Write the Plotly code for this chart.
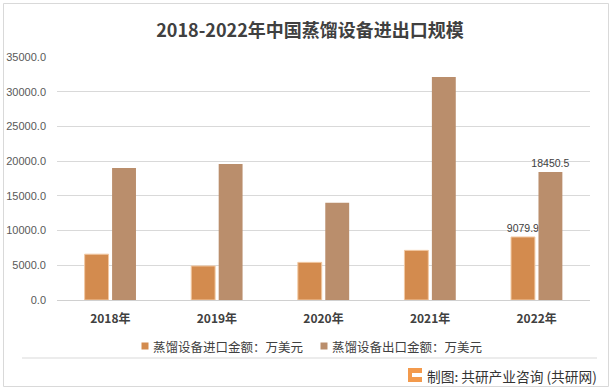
import plotly.graph_objects as go

years = ["2018年", "2019年", "2020年", "2021年", "2022年"]
imports = [6600.0, 4900.0, 5420.0, 7150.0, 9079.9]
exports = [19000.0, 19600.0, 14000.0, 32130.0, 18450.5]
import_labels = ["", "", "", "", "9079.9"]
export_labels = ["", "", "", "", "18450.5"]
y_ticks = [0, 5000, 10000, 15000, 20000, 25000, 30000, 35000]

name_imp = "蒸馏设备进口金额：万美元"
name_exp = "蒸馏设备出口金额：万美元"
color_imp = "#D38B4E"
color_exp = "#BA8E6C"

CJK = "Noto Sans CJK SC, Noto Sans, sans-serif"

L, R, T, B = 57, 23, 57, 90
W, H = 613, 390
pw, ph = W - L - R, H - T - B

def px(x):
    return (x - L) / pw

def py(y):
    return (H - B - y) / ph

fig = go.Figure()
fig.add_trace(go.Bar(
    x=years, y=imports, name=name_imp, showlegend=False,
    marker=dict(color=color_imp, line=dict(color="#F2C9A3", width=1)),
    text=import_labels, textposition="outside", constraintext="none",
    textfont=dict(size=10.5, color="#404040", family="Liberation Sans, Arial"),
    cliponaxis=False,
))
fig.add_trace(go.Bar(
    x=years, y=exports, name=name_exp, showlegend=False,
    marker=dict(color=color_exp, line=dict(width=0)),
    text=export_labels, textposition="outside", constraintext="none",
    textfont=dict(size=10.5, color="#404040", family="Liberation Sans, Arial"),
    cliponaxis=False,
))

shapes = [
    dict(type="rect", xref="paper", yref="paper",
         x0=px(3.5), x1=px(608.5), y0=py(3.5), y1=py(386.5),
         line=dict(color="#D9D9D9", width=1), layer="below"),
    dict(type="line", xref="paper", yref="paper",
         x0=px(22), x1=px(597), y0=py(358), y1=py(358),
         line=dict(color="#D9D9D9", width=1)),
    # legend swatches
    dict(type="rect", xref="paper", yref="paper",
         x0=px(141.5), x1=px(148.5), y0=py(342.5), y1=py(349.5),
         fillcolor=color_imp, line=dict(width=0)),
    dict(type="rect", xref="paper", yref="paper",
         x0=px(320.5), x1=px(327.5), y0=py(342.5), y1=py(349.5),
         fillcolor=color_exp, line=dict(width=0)),
    # logo
    dict(type="rect", xref="paper", yref="paper",
         x0=px(408), x1=px(422), y0=py(368), y1=py(382),
         fillcolor="#F39A4C", line=dict(width=0)),
    dict(type="rect", xref="paper", yref="paper",
         x0=px(412), x1=px(422), y0=py(373), y1=py(377),
         fillcolor="#FFFFFF", line=dict(width=0)),
]

annotations = [
    dict(text=name_imp, xref="paper", yref="paper",
         x=px(151), y=py(346), xanchor="left", yanchor="middle",
         showarrow=False, font=dict(size=12.5, color="#404040", family=CJK)),
    dict(text=name_exp, xref="paper", yref="paper",
         x=px(330), y=py(346), xanchor="left", yanchor="middle",
         showarrow=False, font=dict(size=12.5, color="#404040", family=CJK)),
    dict(text="制图: 共研产业咨询 (共研网)", xref="paper", yref="paper",
         x=px(599), y=py(376), xanchor="right", yanchor="middle",
         showarrow=False, font=dict(size=13.7, color="#333333", family=CJK)),
]

fig.update_layout(
    width=W, height=H,
    margin=dict(l=L, r=R, t=T, b=B),
    paper_bgcolor="white", plot_bgcolor="white",
    title=dict(text="<b>2018-2022年中国蒸馏设备进出口规模</b>", x=310 / W, xanchor="center",
               y=1 - 31 / H, yanchor="middle",
               font=dict(size=18, color="#404040", family=CJK)),
    barmode="group", bargap=0.485, bargroupgap=0.13,
    showlegend=False,
    xaxis=dict(showgrid=False, showline=False, ticks="", automargin=False,
               tickfont=dict(size=12, color="#404040", family=CJK, weight="bold"),
               ticklabelstandoff=10),
    yaxis=dict(range=[0, 35000], tickvals=y_ticks, tickformat=".1f", automargin=False,
               showgrid=True, gridcolor="#D9D9D9", gridwidth=1,
               zeroline=True, zerolinecolor="#D0D0D0", zerolinewidth=1,
               showline=False, ticks="",
               tickfont=dict(size=11, color="#595959", family="Liberation Sans, Arial"),
               ticklabelstandoff=10),
    shapes=shapes, annotations=annotations,
)

fig.write_html("out.html", config={"displayModeBar": False},
               post_script="document.body.style.margin='0';document.body.style.overflow='hidden';")
